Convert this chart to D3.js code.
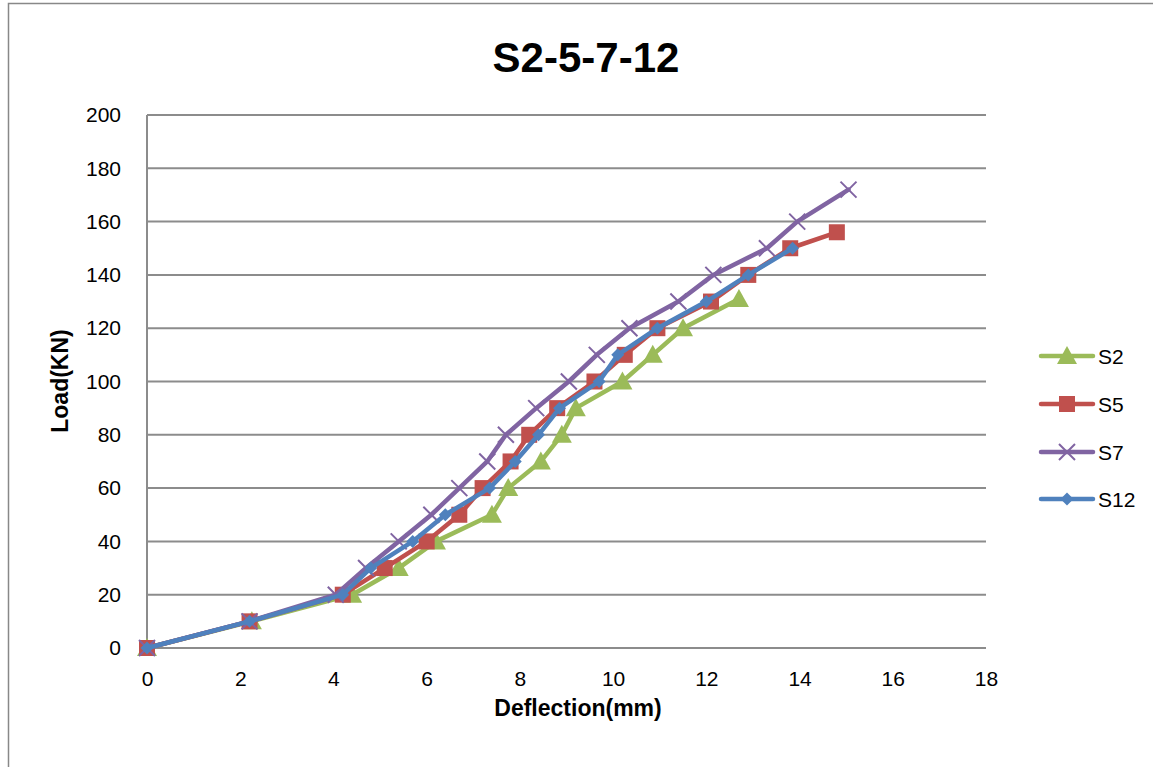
<!DOCTYPE html>
<html>
<head>
<meta charset="utf-8">
<script src="https://cdn.jsdelivr.net/npm/d3@7"></script>
<style>
  html, body { margin: 0; padding: 0; background: #fff; }
  svg { display: block; }
  text { font-family: "Liberation Sans", Arial, sans-serif; fill: #000; }
</style>
</head>
<body>
<svg id="chart" width="1153" height="767"></svg>
<script>
// Load–deflection readings for each specimen: deflection (mm) and load (KN)
const s2Deflection  = [0, 2.25, 4.4, 5.4, 6.2, 7.4, 7.75, 8.45, 8.9, 9.2, 10.2, 10.85, 11.5, 12.7];
const s2Load        = [0, 10, 20, 30, 40, 50, 60, 70, 80, 90, 100, 110, 120, 131];

const s5Deflection  = [0, 2.2, 4.2, 5.1, 6.0, 6.7, 7.2, 7.8, 8.2, 8.8, 9.6, 10.25, 10.95, 12.1, 12.9, 13.8, 14.8];
const s5Load        = [0, 10, 20, 30, 40, 50, 60, 70, 80, 90, 100, 110, 120, 130, 140, 150, 156];

const s7Deflection  = [0, 2.2, 4.05, 4.7, 5.4, 6.1, 6.7, 7.3, 7.7, 8.35, 9.05, 9.65, 10.35, 11.4, 12.15, 13.3, 13.95, 15.05];
const s7Load        = [0, 10, 20, 30, 40, 50, 60, 70, 80, 90, 100, 110, 120, 130, 140, 150, 160, 172];

const s12Deflection = [0, 2.2, 4.2, 4.8, 5.7, 6.4, 7.35, 7.9, 8.4, 8.85, 9.7, 10.1, 10.95, 12.0, 12.9, 13.85];
const s12Load       = [0, 10, 20, 30, 40, 50, 60, 70, 80, 90, 100, 110, 120, 130, 140, 150];

const xTicks = [0, 2, 4, 6, 8, 10, 12, 14, 16, 18];
const yTicks = [0, 20, 40, 60, 80, 100, 120, 140, 160, 180, 200];

const seriesNames = ["S2", "S5", "S7", "S12"];

const series = [
  { name: seriesNames[0], xs: s2Deflection,  ys: s2Load,  color: "#9BBB59", marker: "triangle" },
  { name: seriesNames[1], xs: s5Deflection,  ys: s5Load,  color: "#C0504D", marker: "square" },
  { name: seriesNames[2], xs: s7Deflection,  ys: s7Load,  color: "#8064A2", marker: "cross" },
  { name: seriesNames[3], xs: s12Deflection, ys: s12Load, color: "#4F81BD", marker: "diamond" }
];

const svg = d3.select("#chart");

// Outer chart frame
svg.append("path")
  .attr("d", "M8.5,767 L8.5,3.5 L1153,3.5")
  .attr("fill", "none").attr("stroke", "#888").attr("stroke-width", 1.5);

const plot = { left: 147, right: 986, top: 115, bottom: 648 };
const x = d3.scaleLinear().domain([0, 18]).range([plot.left, plot.right]);
const y = d3.scaleLinear().domain([0, 200]).range([plot.bottom, plot.top]);

// Horizontal gridlines
svg.append("g").selectAll("line").data(yTicks).join("line")
  .attr("x1", plot.left).attr("x2", plot.right)
  .attr("y1", d => y(d)).attr("y2", d => y(d))
  .attr("stroke", "#8c8c8c").attr("stroke-width", 2);

// Vertical axis line
svg.append("line")
  .attr("x1", plot.left).attr("x2", plot.left)
  .attr("y1", plot.top).attr("y2", plot.bottom)
  .attr("stroke", "#8c8c8c").attr("stroke-width", 2);

// Y axis labels
const yAxis = d3.axisLeft(y).tickValues(yTicks).tickSize(0).tickPadding(26);
const gy = svg.append("g").attr("transform", `translate(${plot.left},0)`).call(yAxis);
gy.select(".domain").remove();
gy.selectAll("text").attr("font-size", 21).attr("font-family", "Liberation Sans, Arial, sans-serif").attr("fill", "#000");

// X axis labels
const xAxis = d3.axisBottom(x).tickValues(xTicks).tickSize(0).tickPadding(23);
const gx = svg.append("g").attr("transform", `translate(0,${plot.bottom})`).call(xAxis);
gx.select(".domain").remove();
gx.selectAll("text").attr("font-size", 21).attr("font-family", "Liberation Sans, Arial, sans-serif").attr("fill", "#000");

// Titles
svg.append("text")
  .attr("x", 586).attr("y", 72)
  .attr("text-anchor", "middle")
  .attr("font-size", 42).attr("font-weight", "bold")
  .text("S2-5-7-12");

svg.append("text")
  .attr("x", 578).attr("y", 716)
  .attr("text-anchor", "middle")
  .attr("font-size", 23).attr("font-weight", "bold")
  .text("Deflection(mm)");

svg.append("text")
  .attr("transform", "translate(68,381) rotate(-90)")
  .attr("text-anchor", "middle")
  .attr("font-size", 23).attr("font-weight", "bold")
  .text("Load(KN)");

// Marker drawing
function drawMarker(g, type, color, cx, cy) {
  if (type === "triangle") {
    g.append("path")
      .attr("d", `M${cx},${cy - 10} L${cx + 10},${cy + 8} L${cx - 10},${cy + 8} Z`)
      .attr("fill", color);
  } else if (type === "square") {
    g.append("rect")
      .attr("x", cx - 8).attr("y", cy - 8).attr("width", 16).attr("height", 16)
      .attr("fill", color);
  } else if (type === "cross") {
    g.append("path")
      .attr("d", `M${cx - 8},${cy - 8} L${cx + 8},${cy + 8} M${cx - 8},${cy + 8} L${cx + 8},${cy - 8}`)
      .attr("stroke", color).attr("stroke-width", 2).attr("fill", "none");
  } else if (type === "diamond") {
    g.append("path")
      .attr("d", `M${cx},${cy - 6.5} L${cx + 6.5},${cy} L${cx},${cy + 6.5} L${cx - 6.5},${cy} Z`)
      .attr("fill", color);
  }
}

const line = d3.line().x(d => x(d[0])).y(d => y(d[1]));

series.forEach(s => {
  const pts = s.xs.map((v, i) => [v, s.ys[i]]);
  const g = svg.append("g");
  g.append("path")
    .attr("d", line(pts))
    .attr("fill", "none")
    .attr("stroke", s.color)
    .attr("stroke-width", 4.5)
    .attr("stroke-linejoin", "round")
    .attr("stroke-linecap", "round");
  pts.forEach(p => drawMarker(g, s.marker, s.color, x(p[0]), y(p[1])));
});

// Legend
const legendY = [356, 404, 452, 499];
series.forEach((s, i) => {
  const g = svg.append("g");
  const ly = legendY[i];
  g.append("line")
    .attr("x1", 1041).attr("x2", 1093).attr("y1", ly).attr("y2", ly)
    .attr("stroke", s.color).attr("stroke-width", 4.5).attr("stroke-linecap", "round");
  drawMarker(g, s.marker, s.color, 1067, ly);
  g.append("text")
    .attr("x", 1098).attr("y", ly + 8)
    .attr("font-size", 21)
    .text(s.name);
});
</script>
</body>
</html>
